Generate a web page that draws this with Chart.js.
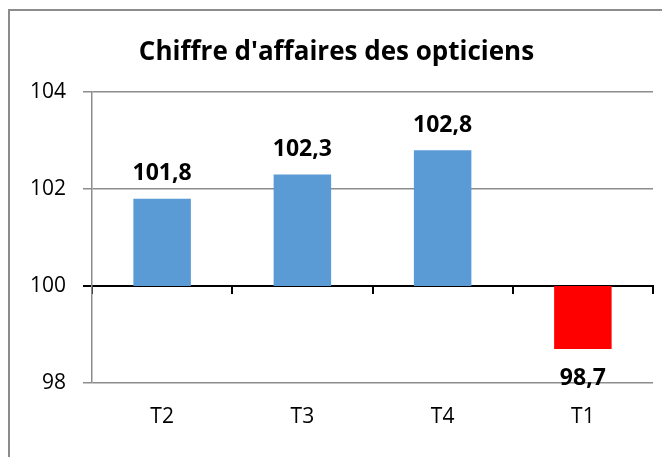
<!DOCTYPE html>
<html lang="fr">
<head>
<meta charset="utf-8">
<title>Chiffre d'affaires des opticiens</title>
<script src="https://cdn.jsdelivr.net/npm/chart.js@4/dist/chart.umd.min.js"></script>
<style>
    body { margin: 0; background: #fff; }
    #wrap { position: relative; width: 662px; height: 457px; overflow: hidden; }
    #frame {
        position: absolute; left: 8px; top: 9px; width: 700px; height: 500px;
        border-left: 2px solid #8c8c8c; border-top: 2px solid #8c8c8c;
    }
    #chart { position: absolute; left: 0; top: 0; }
</style>
</head>
<body>
<div id="wrap">
    <div id="frame"></div>
    <canvas id="chart" width="662" height="457"></canvas>
</div>
<script>
// ===================================
// Data
// ===================================
const trimestres = ['T2', 'T3', 'T4', 'T1'];
const valeurs = [101.8, 102.3, 102.8, 98.7];
const base = 100;
const yTicks = [98, 100, 102, 104];
const couleurs = ['#5b9bd5', '#5b9bd5', '#5b9bd5', '#ff0000'];

const FONT = '"Open Sans", Lato, sans-serif';
const GRIS = '#8c8c8c';

// value labels above / below each bar
const valueLabels = {
    id: 'valueLabels',
    afterDatasetsDraw(chart) {
        const ctx = chart.ctx;
        const meta = chart.getDatasetMeta(0);
        ctx.save();
        ctx.font = 'bold 23px ' + FONT;
        ctx.fillStyle = '#000';
        ctx.textAlign = 'center';
        ctx.textBaseline = 'middle';
        meta.data.forEach(function (bar, i) {
            const v = valeurs[i];
            const txt = v.toFixed(1).replace('.', ',');
            const top = Math.min(bar.y, bar.base);
            const bottom = Math.max(bar.y, bar.base);
            const y = v >= base ? top - 25 : bottom + 29;
            ctx.fillText(txt, bar.x, y);
        });
        ctx.restore();
    }
};

new Chart(document.getElementById('chart'), {
    type: 'bar',
    data: {
        labels: trimestres,
        datasets: [{
            data: valeurs.map(v => [base, v]),
            backgroundColor: couleurs,
            borderWidth: 0,
            categoryPercentage: 1,
            barPercentage: 0.41,
            xAxisID: 'x'
        }]
    },
    options: {
        responsive: false,
        animation: false,
        layout: { padding: { left: 20, right: 9, top: 0, bottom: 0 } },
        plugins: {
            legend: { display: false },
            tooltip: { enabled: false },
            title: {
                display: true,
                text: "Chiffre d'affaires des opticiens",
                color: '#000',
                font: { family: FONT, size: 26, weight: 'bold', lineHeight: 1.2 },
                padding: { top: 37, bottom: 24 }
            }
        },
        scales: {
            x: {
                type: 'category',
                position: 'bottom',
                grid: { display: false },
                border: { display: false },
                ticks: { color: '#000', padding: 13, font: { family: FONT, size: 21 } },
                afterFit(scale) { scale.height = 74; }
            },
            xTicks: {
                axis: 'x',
                type: 'category',
                position: { y: base },
                offset: true,
                grid: {
                    offset: true,
                    drawOnChartArea: false,
                    drawTicks: true,
                    tickLength: 7,
                    color: '#000',
                    lineWidth: 2
                },
                border: { display: true, color: '#000', width: 2 },
                ticks: { display: false }
            },
            y: {
                min: 98,
                max: 104,
                afterBuildTicks(scale) { scale.ticks = yTicks.map(v => ({ value: v })); },
                grid: {
                    color: c => (c.tick && c.tick.value === base ? '#000' : GRIS),
                    lineWidth: c => (c.tick && c.tick.value === base ? 2 : 1.5),
                    tickLength: 9
                },
                border: { display: true, color: GRIS, width: 1.5 },
                ticks: { color: '#000', padding: 17, font: { family: FONT, size: 21 } },
                afterFit(scale) { scale.width = 72; }
            }
        }
    },
    plugins: [valueLabels]
});
</script>
</body>
</html>
